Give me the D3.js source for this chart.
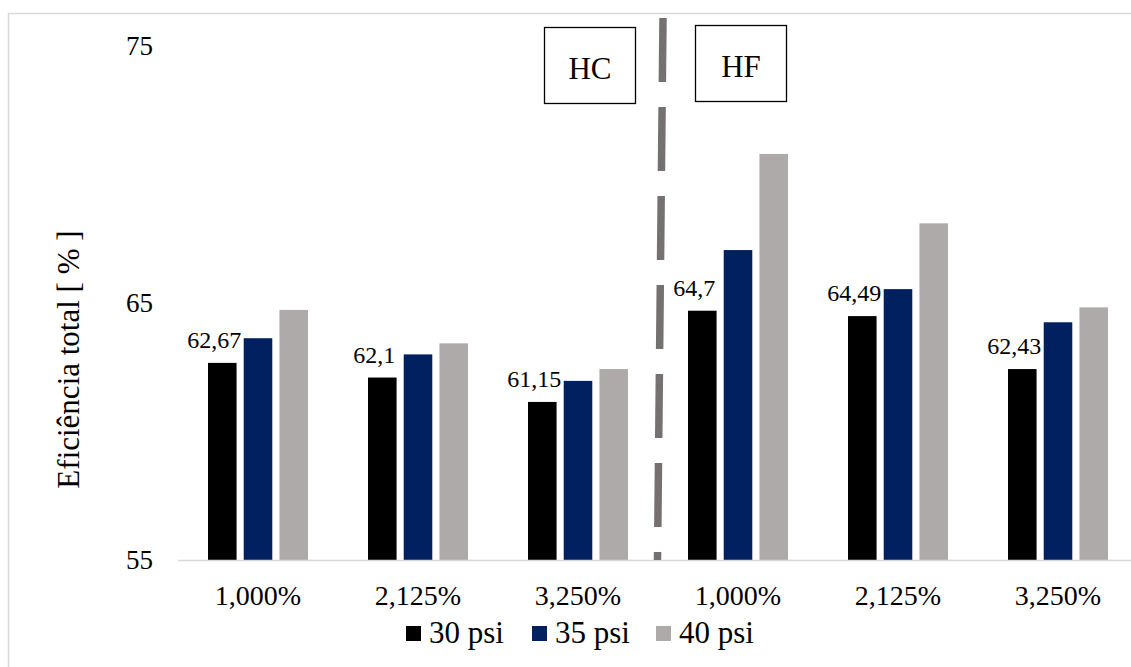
<!DOCTYPE html>
<html>
<head>
<meta charset="utf-8">
<script src="https://cdn.jsdelivr.net/npm/d3@7"></script>
<style>
  html, body { margin: 0; padding: 0; background: #fff; }
  svg { display: block; }
  text { font-family: "Liberation Serif", "Times New Roman", serif; fill: #000; }
</style>
</head>
<body>
<svg id="chart" width="1131" height="667"></svg>
<script>
// ---- data ----
const categories = ["HC 1,000%", "HC 2,125%", "HC 3,250%", "HF 1,000%", "HF 2,125%", "HF 3,250%"];
const categoryLabels = ["1,000%", "2,125%", "3,250%", "1,000%", "2,125%", "3,250%"];
const seriesNames = ["30 psi", "35 psi", "40 psi"];
const psi30 = [62.67, 62.1, 61.15, 64.7, 64.49, 62.43];
const psi35 = [63.63, 63.0, 61.97, 67.06, 65.54, 64.25];
const psi40 = [64.73, 63.43, 62.43, 70.8, 68.1, 64.83];
const dataLabels30 = ["62,67", "62,1", "61,15", "64,7", "64,49", "62,43"];
const yTicks = [55, 65, 75];
const groupNames = ["HC", "HF"];
const colors = ["#000000", "#002060", "#AEAAAA"];

const seriesValues = [psi30, psi35, psi40];

const svg = d3.select("#chart");
const W = 1131, H = 667;

// outer border
svg.append("rect")
  .attr("x", 8.5).attr("y", 13.5)
  .attr("width", W + 20).attr("height", H + 20)
  .attr("fill", "none").attr("stroke", "#d9d9d9").attr("stroke-width", 1.5);

const x0 = d3.scaleBand().domain(categories).range([178, 1138]).padding(0);
const bw = x0.bandwidth();
const x1 = d3.scaleBand().domain(seriesNames).range([bw * 0.1875, bw * 0.8125]).paddingInner(0.2);
const y = d3.scaleLinear().domain([55, 75]).range([560, 46]);

// y tick labels
svg.append("g").selectAll("text").data(yTicks).join("text")
  .attr("x", 153).attr("y", d => y(d))
  .attr("text-anchor", "end").attr("dominant-baseline", "central")
  .style("font-size", "27px")
  .text(d => d);

// y title
svg.append("text")
  .attr("transform", `translate(79,${y(62.8)}) rotate(-90)`)
  .attr("text-anchor", "middle")
  .style("font-size", "31px")
  .text("Eficiência total [ % ]");

// bars
const groups = svg.append("g").selectAll("g").data(categories).join("g")
  .attr("transform", d => `translate(${x0(d)},0)`);

groups.selectAll("rect").data((c, i) => seriesNames.map((s, j) => ({ s, j, v: seriesValues[j][i] })))
  .join("rect")
  .attr("x", d => x1(d.s))
  .attr("width", x1.bandwidth())
  .attr("y", d => y(d.v))
  .attr("height", d => y(55) - y(d.v))
  .attr("fill", d => colors[d.j]);

// x axis line
svg.append("line")
  .attr("x1", x0.range()[0]).attr("x2", W + 10)
  .attr("y1", y(55) + 0.5).attr("y2", y(55) + 0.5)
  .attr("stroke", "#d9d9d9").attr("stroke-width", 1.5);

// category labels
svg.append("g").selectAll("text").data(categories).join("text")
  .attr("x", d => x0(d) + bw / 2)
  .attr("y", 605)
  .attr("text-anchor", "middle")
  .style("font-size", "28px")
  .text((d, i) => categoryLabels[i]);

// data labels for 30 psi
svg.append("g").selectAll("text").data(categories).join("text")
  .attr("x", (d, i) => x0(d) + x1(seriesNames[0]) + x1.bandwidth() / 2 - 8)
  .attr("y", (d, i) => y(psi30[i]) - 15)
  .attr("text-anchor", "middle")
  .style("font-size", "24px")
  .text((d, i) => dataLabels30[i]);

// dashed separator between HC and HF
const sepX = x0(categories[3]);
svg.append("line")
  .attr("x1", sepX + 5).attr("y1", 18)
  .attr("x2", sepX - 0.5).attr("y2", y(55))
  .attr("stroke", "#767171").attr("stroke-width", 7.5)
  .attr("stroke-dasharray", "64 25");

// HC / HF boxes
const boxes = [
  { name: groupNames[0], cx: sepX - 68, top: 27 },
  { name: groupNames[1], cx: sepX + 83, top: 25 }
];
boxes.forEach(b => {
  svg.append("rect")
    .attr("x", b.cx - 45.5).attr("y", b.top + 0.5)
    .attr("width", 91).attr("height", 76)
    .attr("fill", "#fff").attr("stroke", "#000").attr("stroke-width", 1.3);
  svg.append("text")
    .attr("x", b.cx).attr("y", b.top + 52)
    .attr("text-anchor", "middle")
    .style("font-size", "31px")
    .text(b.name);
});

// legend
const legendX = [406, 532, 656];
const leg = svg.append("g").selectAll("g").data(seriesNames).join("g")
  .attr("transform", (d, i) => `translate(${legendX[i]},0)`);
leg.append("rect").attr("x", 0).attr("y", 626).attr("width", 15).attr("height", 15)
  .attr("fill", (d, i) => colors[i]);
leg.append("text").attr("x", 23).attr("y", 643)
  .style("font-size", "31px")
  .text(d => d);
</script>
</body>
</html>
